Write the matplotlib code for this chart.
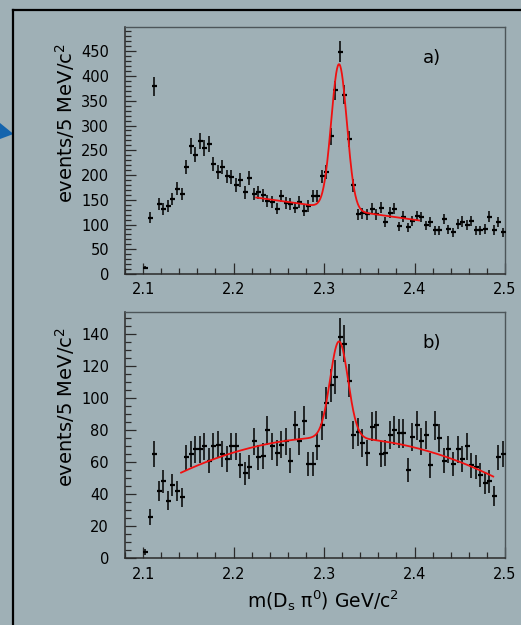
import matplotlib
matplotlib.use("Agg")
import matplotlib.pyplot as plt
import numpy as np
from matplotlib.lines import Line2D
from matplotlib.patches import Polygon
from matplotlib.ticker import MultipleLocator

# histogram binning: 5 MeV bins from 2.1 to 2.5 GeV
bin_lo = 2.1
bin_width = 0.005

# a) events per bin
counts_a = [
    13, 114, 379, 141, 131, 138, 151, 172, 162, 216,
    258, 241, 269, 254, 262, 222, 206, 216, 197, 196,
    180, 190, 165, 194, 162, 165, 159, 148, 145, 132,
    158, 144, 141, 134, 145, 128, 138, 158, 158, 197,
    206, 278, 371, 449, 362, 273, 179, 121, 123, 121,
    132, 121, 134, 105, 124, 132, 96, 116, 94, 107,
    117, 115, 98, 105, 88, 88, 111, 90, 84, 101,
    106, 99, 107, 88, 88, 91, 116, 89, 105, 84,
]

# b) events per bin
counts_b = [
    4, 26, 65, 42, 48, 36, 46, 42, 38, 63,
    65, 68, 68, 70, 61, 70, 71, 65, 62, 70,
    70, 58, 53, 57, 73, 63, 64, 80, 70, 66,
    71, 73, 61, 83, 73, 86, 59, 59, 70, 83,
    97, 108, 113, 138, 134, 111, 77, 79, 72, 66,
    82, 83, 65, 66, 77, 80, 78, 78, 55, 76,
    83, 73, 77, 58, 83, 75, 61, 68, 59, 68,
    62, 70, 58, 57, 52, 47, 48, 39, 63, 65,
]

# fit results: gaussian signal + background
fit_a = dict(lo=2.225, hi=2.405, amp=293.0, mean=2.3166, sigma=0.0086,
             p0=135.2, p1=-257.0)
fit_b = dict(lo=2.142, hi=2.487, amp=60.0, mean=2.3166, sigma=0.0099,
             c0=75.5, cx=2.31, c2=-780.0)

BG = "#9fb0b6"


def fit_curve_a(x, p):
    sig = p["amp"] * np.exp(-0.5 * ((x - p["mean"]) / p["sigma"]) ** 2)
    return sig + p["p0"] + p["p1"] * (x - 2.3)


def fit_curve_b(x, p):
    sig = p["amp"] * np.exp(-0.5 * ((x - p["mean"]) / p["sigma"]) ** 2)
    return sig + p["c0"] + p["c2"] * (x - p["cx"]) ** 2


def style_axes(ax, ymajor, yminor, ymax):
    ax.set_facecolor(BG)
    ax.set_xlim(2.08, 2.5)
    ax.set_ylim(0, ymax)
    ax.xaxis.set_major_locator(MultipleLocator(0.1))
    ax.xaxis.set_minor_locator(MultipleLocator(0.02))
    ax.yaxis.set_major_locator(MultipleLocator(ymajor))
    ax.yaxis.set_minor_locator(MultipleLocator(yminor))
    ax.xaxis.set_major_formatter(plt.FuncFormatter(lambda v, _: f"{v:.1f}"))
    for side in ("left", "bottom"):
        ax.spines[side].set_color("#2a2a2a")
        ax.spines[side].set_linewidth(1.1)
    for side in ("top", "right"):
        ax.spines[side].set_color("#4c5559")
        ax.spines[side].set_linewidth(1.0)
    ax.tick_params(which="both", direction="in", top=False, right=False,
                   color="#2a2a2a", width=0.9, labelsize=10.5)
    ax.tick_params(which="major", length=8)
    ax.tick_params(which="minor", length=4.3)
    ax.tick_params(axis="y", pad=11.5)
    ax.tick_params(axis="x", pad=6)


def draw_hist(ax, counts):
    y = np.asarray(counts, dtype=float)
    x = bin_lo + bin_width * (np.arange(len(y)) + 0.5)
    ax.errorbar(x, y, yerr=np.sqrt(y), fmt="_", color="black", ms=3.6,
                mew=1.6, elinewidth=1.1, capsize=0, zorder=3)


fig = plt.figure(figsize=(5.21, 6.25), dpi=100)
fig.patch.set_facecolor(BG)

ax_a = fig.add_axes([0.2399, 0.5616, 0.7294, 0.3952])
ax_b = fig.add_axes([0.2399, 0.1067, 0.7294, 0.3946])

style_axes(ax_a, 50, 10, 499)
style_axes(ax_b, 20, 5, 154)

draw_hist(ax_a, counts_a)
draw_hist(ax_b, counts_b)

xa = np.linspace(fit_a["lo"], fit_a["hi"], 400)
ax_a.plot(xa, fit_curve_a(xa, fit_a), color="#f01010", lw=1.3, zorder=4)
xb = np.linspace(fit_b["lo"], fit_b["hi"], 400)
ax_b.plot(xb, fit_curve_b(xb, fit_b), color="#f01010", lw=1.3, zorder=4)

for ax, tag in ((ax_a, "a)"), (ax_b, "b)")):
    ax.text(-0.158, 0.935, "events/5 MeV/c$^2$", transform=ax.transAxes,
            rotation=90, ha="center", va="top", fontsize=14)
    ax.text(0.807, 0.875, tag, transform=ax.transAxes, ha="center",
            va="center", fontsize=13)

fig.text(323 / 521, 1 - 601 / 625, "m(D$_\\mathrm{s}$ π$^0$) GeV/c$^2$",
         ha="center", va="center", fontsize=13.5)

# outer frame and side marker
fig.add_artist(Line2D([12.5 / 521, 1.0], [1 - 9.5 / 625, 1 - 9.5 / 625],
                      transform=fig.transFigure, color="black", lw=1.6))
fig.add_artist(Line2D([12.5 / 521, 12.5 / 521], [0.0, 1 - 9.5 / 625],
                      transform=fig.transFigure, color="black", lw=1.6))
tri = np.array([[0, 123], [13.5, 134], [0, 139]], dtype=float)
tri[:, 0] /= 521
tri[:, 1] = 1 - tri[:, 1] / 625
fig.add_artist(Polygon(tri, closed=True, transform=fig.transFigure,
                       facecolor="#1464ad", edgecolor="none"))

fig.savefig("out.png", dpi=100, facecolor=BG)
